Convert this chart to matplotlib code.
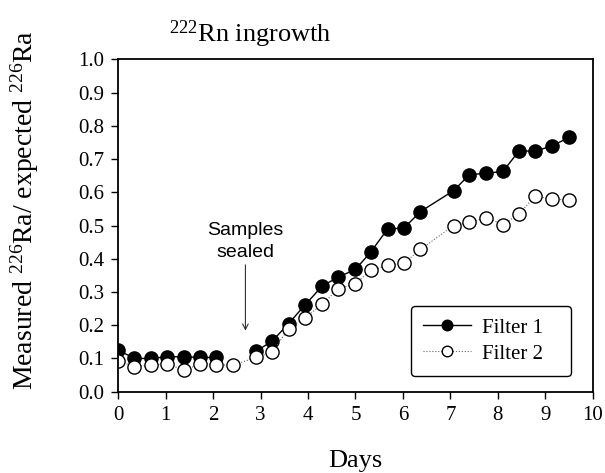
import matplotlib
matplotlib.use("Agg")
import matplotlib.pyplot as plt
import numpy as np

# sampling times (days)
days = [0, 0.34, 0.68, 1.03, 1.39, 1.73, 2.07, 2.41, 2.91, 3.25, 3.59, 3.93,
        4.30, 4.64, 5.0, 5.32, 5.68, 6.02, 6.37, 7.07, 7.40, 7.76, 8.11, 8.45,
        8.78, 9.15, 9.5]

# measured / expected Ra-226
filter1 = [0.125, 0.10, 0.10, 0.105, 0.105, 0.103, 0.103, np.nan, 0.122, 0.153,
           0.205, 0.26, 0.318, 0.345, 0.368, 0.42, 0.49, 0.492, 0.542, 0.605,
           0.653, 0.657, 0.663, 0.725, 0.723, 0.74, 0.765]
filter2 = [0.093, 0.075, 0.08, 0.083, 0.065, 0.083, 0.08, 0.08, 0.103, 0.12,
           0.19, 0.222, 0.263, 0.31, 0.325, 0.365, 0.38, 0.387, 0.428, 0.50,
           0.51, 0.523, 0.503, 0.535, 0.588, 0.58, 0.576]

xticks = list(range(0, 11))
yticks = [0.0, 0.1, 0.2, 0.3, 0.4, 0.5, 0.6, 0.7, 0.8, 0.9, 1.0]

plt.rcParams['font.family'] = ['Liberation Serif', 'DejaVu Serif']
plt.rcParams['mathtext.fontset'] = 'custom'
plt.rcParams['mathtext.rm'] = 'Liberation Serif'
plt.rcParams['mathtext.it'] = 'Liberation Serif:italic'

fig = plt.figure(figsize=(6.05, 4.73), dpi=100)
ax = fig.add_axes([0.1955, 0.1719, 0.7842, 0.7027])

ax.plot(days, filter1, '-', color='black', lw=1.0, marker='o', ms=9.5,
        mfc='black', mec='black', mew=1.0, label='Filter 1')
ax.plot(days, filter2, ':', color='#666666', lw=0.8, marker='o', ms=9.5,
        mfc='white', mec='black', mew=1.0, label='Filter 2')

ax.set_xlim(0, 10)
ax.set_ylim(0, 1.0)
ax.set_xticks(xticks)
ax.set_xticklabels([str(t) for t in xticks])
ax.set_yticks(yticks)
ax.set_yticklabels(['%.1f' % t for t in yticks])
ax.tick_params(direction='out', length=5, width=1, labelsize=15, pad=5)
for s in ax.spines.values():
    s.set_linewidth(1.3)

ax.annotate('', xy=(2.68, 0.175), xytext=(2.68, 0.39),
            arrowprops=dict(arrowstyle='->', color='#333333', lw=0.8))
ax.text(2.67, 0.392, 'Samples\nsealed', ha='center', va='bottom',
        family=['Liberation Sans', 'DejaVu Sans'], fontsize=14,
        linespacing=1.4)

leg = ax.legend(loc='lower right', bbox_to_anchor=(0.954, 0.047),
                borderaxespad=0, fontsize=15, handlelength=2.3,
                fancybox=True, edgecolor='black', framealpha=1,
                borderpad=0.6, labelspacing=0.3, handletextpad=0.5,
                markerscale=0.8)
leg.get_frame().set_linewidth(1.0)
for t in leg.get_texts():
    t.set_text(t.get_text() + '   ')

fig.text(0.413, 1 - 42 / 473, r'$^{222}$Rn ingrowth', ha='center',
         va='baseline', fontsize=19)
fig.text(25 / 605, 1 - 210 / 473,
         r'Measured $^{226}$Ra/ expected $^{226}$Ra', rotation=90,
         ha='center', va='center', fontsize=20)
fig.text(355.5 / 605, 1 - 467 / 473, 'Days', ha='center', va='baseline',
         fontsize=19)

fig.savefig('out.png', dpi=100)
